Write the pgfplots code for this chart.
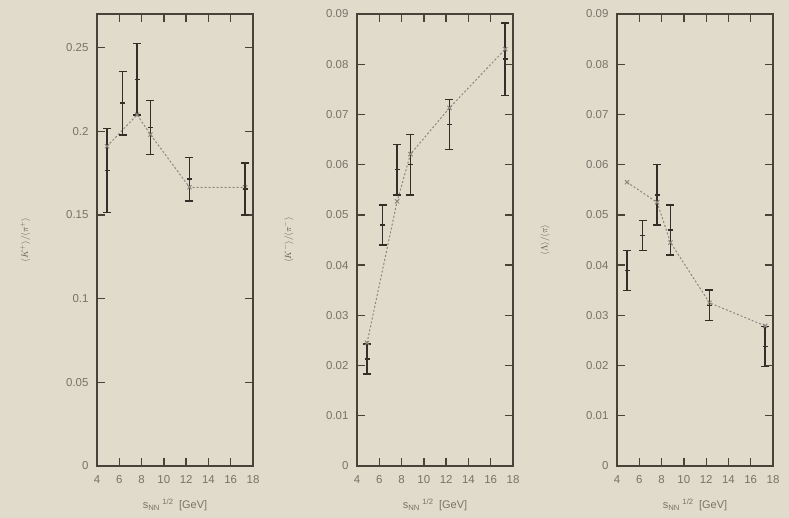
\documentclass[border=0pt]{standalone}
\usepackage{pgfplots}
\pgfplotsset{compat=1.18}
\usepackage{fontspec}
\setmainfont{Liberation Sans}
\definecolor{bg}{RGB}{224,219,202}
\definecolor{axc}{RGB}{72,66,56}
\definecolor{txt}{RGB}{120,115,105}
\definecolor{ylc}{RGB}{95,90,80}
\definecolor{modc}{RGB}{140,135,125}
\definecolor{datc}{RGB}{50,46,40}
\pgfplotsset{
 panel/.style={
  scale only axis, width=156bp, height=452bp, anchor=south west,
  xmin=4, xmax=18, ymin=0,
  xtick={4,6,...,18},
  tick align=inside, major tick length=8bp,
  axis line style={axc, line width=1.6bp},
  every tick/.style={axc, line width=1.3bp},
  tick label style={font=\fontsize{11.5}{13}\selectfont, text=txt},
  /pgf/number format/assume math mode=true,
  scaled y ticks=false,
  yticklabel style={/pgf/number format/fixed, /pgf/number format/precision=2, xshift=-5bp},
  xticklabel style={yshift=-6bp},
  clip=false,
 },
 dat/.style={datc, line width=1.5bp, mark=+, mark size=2.5bp, only marks,
   error bars/.cd, y dir=both, y explicit,
   error bar style={line width=1.5bp, datc},
   error mark options={rotate=90, mark size=4bp, line width=1.5bp, datc}},
 mod/.style={modc, dashed, dash pattern=on 2bp off 2bp, line width=1bp, mark=x, mark size=3bp, mark options={solid}},
}
\newcommand{\xlab}{\node[font=\fontsize{11}{13}\selectfont, text=txt] at (axis description cs:0.5,0) [yshift=-39bp] {s\textsubscript{NN}\textsuperscript{\,\,1/2}\enspace[GeV]};}
\begin{document}
\begin{tikzpicture}
\useasboundingbox[fill=bg] (0,0) rectangle (789bp,518bp);
% Panel 1
\begin{axis}[panel, at={(97bp,52bp)}, ymax=0.27, ytick={0,0.05,...,0.25}]
\addplot[mod] coordinates {(4.9,0.191) (7.6,0.2098) (8.8,0.198) (12.3,0.1665) (17.3,0.1665)};
\addplot[dat] coordinates {
 (4.9,0.1765) +- (0,0.025)
 (6.3,0.2167) +- (0,0.019)
 (7.6,0.231) +- (0,0.0214)
 (8.8,0.2022) +- (0,0.016)
 (12.3,0.1713) +- (0,0.013)
 (17.3,0.1655) +- (0,0.0155)
};
\node[rotate=90, font=\fontsize{9}{11}\selectfont, text=ylc] at (axis description cs:-0.46,0.5) {$\langle K^{+}\rangle/\langle\pi^{+}\rangle$};
\xlab
\end{axis}
% Panel 2
\begin{axis}[panel, at={(357bp,52bp)}, ymax=0.09, ytick={0,0.01,...,0.09}]
\addplot[mod] coordinates {(4.9,0.0245) (7.6,0.0527) (8.8,0.0621) (12.3,0.0713) (17.3,0.083)};
\addplot[dat] coordinates {
 (4.9,0.0213) +- (0,0.003)
 (6.3,0.048) +- (0,0.004)
 (7.6,0.059) +- (0,0.005)
 (8.8,0.060) +- (0,0.006)
 (12.3,0.068) +- (0,0.005)
 (17.3,0.081) +- (0,0.0072)
};
\node[rotate=90, font=\fontsize{9}{11}\selectfont, text=ylc] at (axis description cs:-0.44,0.5) {$\langle K^{-}\rangle/\langle\pi^{-}\rangle$};
\xlab
\end{axis}
% Panel 3
\begin{axis}[panel, at={(617bp,52bp)}, ymax=0.09, ytick={0,0.01,...,0.09}]
\addplot[mod] coordinates {(4.9,0.0565) (7.6,0.0525) (8.8,0.0445) (12.3,0.0325) (17.3,0.0279)};
\addplot[dat] coordinates {
 (4.9,0.0389) +- (0,0.004)
 (6.3,0.0459) +- (0,0.003)
 (7.6,0.054) +- (0,0.006)
 (8.8,0.047) +- (0,0.005)
 (12.3,0.032) +- (0,0.003)
 (17.3,0.0238) +- (0,0.004)
};
\node[rotate=90, font=\fontsize{9}{11}\selectfont, text=ylc] at (axis description cs:-0.46,0.5) {$\langle\Lambda\rangle/\langle\pi\rangle$};
\xlab
\end{axis}
\end{tikzpicture}
\end{document}
